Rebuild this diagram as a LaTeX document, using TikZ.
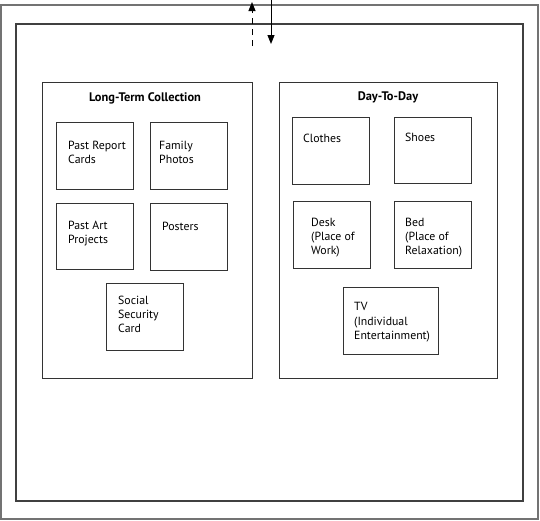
\documentclass[tikz,border=0pt]{standalone}
\usepackage{fontspec}
\setmainfont{PT Sans}
\usetikzlibrary{arrows.meta}
\begin{document}
\begin{tikzpicture}[x=1pt,y=-1pt,
  frame/.style={draw=black!75,line width=1.3pt},
  box/.style={draw=black!80,line width=1pt},
  lbl/.style={anchor=north west,inner sep=0pt,align=left,font=\fontsize{11.8}{14.4}\selectfont},
  ttl/.style={inner sep=0pt,font=\fontsize{12.4}{14}\selectfont\bfseries},
  arr/.style={-{Triangle[length=9pt,width=7pt]},line width=1pt}]
\useasboundingbox (0,0) rectangle (540,520);
\draw[frame,draw=black!55] (1,5) rectangle (538,519);
\draw[frame] (16,24) rectangle (523,501);
% arrows
\coordinate (upS) at (252,46);
\coordinate (upE) at (252,2);
\coordinate (dnS) at (271,0);
\coordinate (dnE) at (271,44);
\draw[arr,dashed,dash pattern=on 6pt off 5pt] (upS) -- (upE);
\draw[arr] (dnS) -- (dnE);
% panels
\node[box,minimum width=210,minimum height=296,anchor=north west,inner sep=0] (L) at (42,82) {};
\node[box,minimum width=218,minimum height=296,anchor=north west,inner sep=0] (R) at (279,82) {};
\node[ttl] (Lt) at (145,98) {Long-Term Collection};
\node[ttl] (Rt) at (388,97) {Day-To-Day};
% left boxes
\draw[box] (56,122) rectangle (133,189);
\draw[box] (150,122) rectangle (227,189);
\draw[box] (56,203) rectangle (133,269);
\draw[box] (150,203) rectangle (227,270);
\draw[box] (106,283) rectangle (183,350);
\node[lbl] (a) at (68,140.5) {Past Report\\Cards};
\node[lbl] (b) at (159,140.5) {Family\\Photos};
\node[lbl] (c) at (68,220.5) {Past Art\\Projects};
\node[lbl] (d) at (162,221.5) {Posters};
\node[lbl] (e) at (118,295.5) {Social\\Security\\Card};
% right boxes
\draw[box] (292,117) rectangle (369,184);
\draw[box] (394,117) rectangle (471,183);
\draw[box] (293,201) rectangle (370,268);
\draw[box] (394,201) rectangle (471,268);
\draw[box] (343,287) rectangle (438,354);
\node[lbl] (f) at (303,133.5) {Clothes};
\node[lbl] (g) at (405,132.5) {Shoes};
\node[lbl] (h) at (311,217.5) {Desk\\(Place of\\Work)};
\node[lbl] (i) at (405,217.5) {Bed\\(Place of\\Relaxation)};
\node[lbl] (j) at (354,302.5) {TV\\(Individual\\Entertainment)};
\end{tikzpicture}
\end{document}
